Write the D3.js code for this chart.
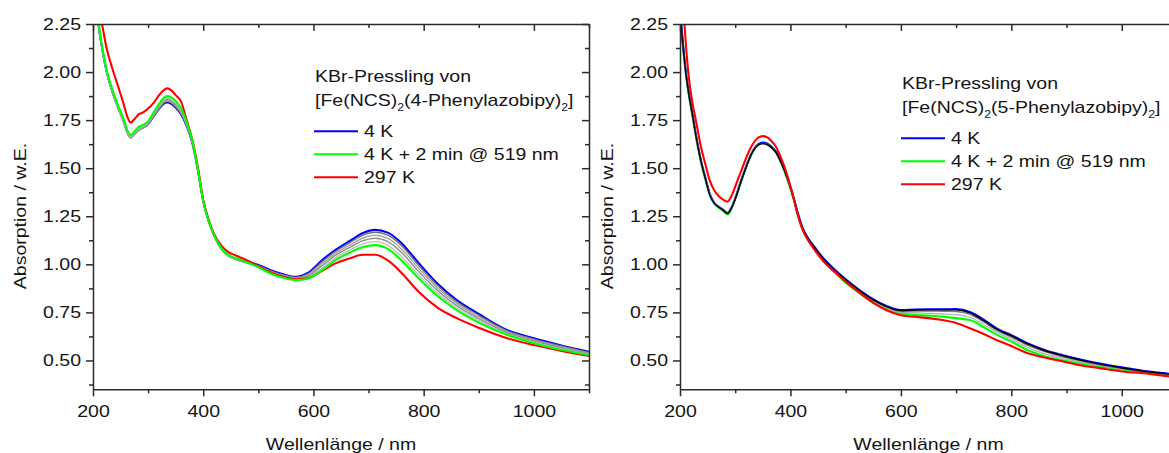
<!DOCTYPE html>
<html>
<head>
<meta charset="utf-8">
<script src="https://cdn.jsdelivr.net/npm/d3@7"></script>
<style>
  html, body { margin: 0; padding: 0; background: #fff; }
  svg { display: block; }
</style>
</head>
<body>
<svg id="chart" width="1169" height="453"></svg>
<script>
// ---- Spectra: KBr pellets of [Fe(NCS)2(4-/5-Phenylazobipy)2] ----

// Left panel: 4-Phenylazobipy complex
const WL_LEFT = [205, 215, 225, 235, 245, 255, 262, 268, 275, 283, 291, 300, 310, 320, 328, 335,
  342, 350, 360, 370, 380, 390, 400, 410, 420, 432, 445, 460, 480, 500, 520, 545, 568, 590, 615,
  640, 665, 690, 712, 735, 760, 790, 825, 860, 900, 950, 1000, 1050, 1100];

const LEFT_4K = [2.35, 2.15, 2.00, 1.90, 1.82, 1.75, 1.69, 1.662, 1.68, 1.70, 1.712, 1.73, 1.77, 1.81,
  1.835, 1.842, 1.835, 1.815, 1.78, 1.72, 1.635, 1.495, 1.33, 1.225, 1.15, 1.086, 1.048, 1.028, 1.012,
  0.997, 0.972, 0.948, 0.935, 0.955, 1.02, 1.075, 1.12, 1.163, 1.179, 1.165, 1.11, 1.01, 0.90, 0.814,
  0.742, 0.66, 0.615, 0.578, 0.545];

const LEFT_519 = [2.36, 2.16, 2.01, 1.91, 1.83, 1.76, 1.70, 1.673, 1.69, 1.715, 1.725, 1.745, 1.79, 1.835,
  1.865, 1.875, 1.868, 1.85, 1.81, 1.74, 1.645, 1.50, 1.33, 1.225, 1.15, 1.088, 1.05, 1.03, 1.01, 0.985,
  0.955, 0.93, 0.918, 0.925, 0.968, 1.022, 1.06, 1.09, 1.10, 1.08, 1.02, 0.93, 0.835, 0.762, 0.697,
  0.635, 0.59, 0.556, 0.528];

const LEFT_297K = [2.40, 2.27, 2.12, 2.02, 1.93, 1.84, 1.77, 1.737, 1.755, 1.78, 1.79, 1.81, 1.84, 1.88,
  1.905, 1.915, 1.905, 1.88, 1.845, 1.75, 1.65, 1.51, 1.335, 1.23, 1.155, 1.10, 1.065, 1.045, 1.02, 0.99,
  0.96, 0.935, 0.922, 0.928, 0.965, 1.005, 1.03, 1.05, 1.05, 1.02, 0.955, 0.86, 0.775, 0.72, 0.67,
  0.617, 0.58, 0.55, 0.523];

// intermediate spectra recorded during irradiation
const LEFT_STEP1 = [2.35, 2.15, 2.00, 1.895, 1.815, 1.745, 1.686, 1.658, 1.676, 1.697, 1.709, 1.729, 1.769,
  1.811, 1.838, 1.846, 1.839, 1.819, 1.783, 1.722, 1.634, 1.49, 1.325, 1.22, 1.146, 1.083, 1.045, 1.025,
  1.009, 0.994, 0.969, 0.945, 0.932, 0.950, 1.012, 1.067, 1.111, 1.152, 1.167, 1.152, 1.097, 0.998,
  0.89, 0.806, 0.735, 0.656, 0.611, 0.575, 0.542];
const LEFT_STEP2 = [2.35, 2.15, 2.00, 1.897, 1.816, 1.746, 1.687, 1.657, 1.675, 1.697, 1.71, 1.731, 1.773,
  1.816, 1.844, 1.851, 1.845, 1.825, 1.789, 1.726, 1.636, 1.492, 1.326, 1.221, 1.146, 1.083, 1.045, 1.024,
  1.007, 0.991, 0.965, 0.941, 0.929, 0.945, 1.002, 1.056, 1.099, 1.137, 1.151, 1.135, 1.079, 0.982,
  0.877, 0.796, 0.726, 0.651, 0.606, 0.57, 0.539];
const LEFT_STEP3 = [2.35, 2.15, 2.00, 1.898, 1.818, 1.748, 1.689, 1.66, 1.678, 1.701, 1.714, 1.735, 1.777,
  1.821, 1.849, 1.857, 1.851, 1.831, 1.795, 1.73, 1.638, 1.494, 1.327, 1.222, 1.147, 1.084, 1.046, 1.025,
  1.008, 0.99, 0.962, 0.938, 0.926, 0.939, 0.991, 1.046, 1.087, 1.123, 1.136, 1.118, 1.061, 0.966,
  0.864, 0.785, 0.717, 0.646, 0.601, 0.566, 0.536];
const LEFT_STEP4 = [2.35, 2.15, 2.00, 1.90, 1.82, 1.75, 1.692, 1.664, 1.683, 1.705, 1.718, 1.739, 1.782,
  1.826, 1.855, 1.864, 1.857, 1.838, 1.80, 1.733, 1.64, 1.496, 1.328, 1.223, 1.148, 1.085, 1.047, 1.027,
  1.009, 0.988, 0.959, 0.934, 0.922, 0.932, 0.979, 1.034, 1.073, 1.106, 1.118, 1.099, 1.04, 0.948,
  0.849, 0.773, 0.707, 0.64, 0.595, 0.561, 0.532];

// Right panel: 5-Phenylazobipy complex
const WL_RIGHT = [200, 205, 211, 216, 222, 230, 238, 246, 254, 262, 270, 278, 286, 294, 302, 310, 318,
  326, 334, 342, 350, 358, 366, 374, 382, 390, 398, 406, 414, 422, 432, 445, 460, 478, 500, 525, 550,
  575, 600, 625, 650, 675, 700, 725, 750, 775, 800, 830, 860, 890, 925, 960, 1000, 1050, 1100];

const RIGHT_4K = [2.33, 2.16, 1.99, 1.89, 1.79, 1.655, 1.54, 1.45, 1.365, 1.32, 1.30, 1.285, 1.268, 1.30,
  1.36, 1.43, 1.495, 1.555, 1.60, 1.625, 1.633, 1.628, 1.61, 1.585, 1.54, 1.485, 1.42, 1.345, 1.26, 1.19,
  1.135, 1.085, 1.03, 0.978, 0.922, 0.866, 0.818, 0.782, 0.762, 0.765, 0.766, 0.766, 0.767, 0.752,
  0.712, 0.664, 0.632, 0.588, 0.555, 0.53, 0.505, 0.484, 0.464, 0.442, 0.427];

const RIGHT_519 = [2.30, 2.14, 1.98, 1.88, 1.78, 1.645, 1.53, 1.44, 1.36, 1.315, 1.295, 1.278, 1.26, 1.295,
  1.355, 1.425, 1.49, 1.55, 1.597, 1.622, 1.632, 1.628, 1.61, 1.583, 1.535, 1.478, 1.41, 1.335, 1.25,
  1.18, 1.125, 1.075, 1.02, 0.965, 0.905, 0.85, 0.80, 0.77, 0.745, 0.737, 0.733, 0.728, 0.72, 0.71,
  0.673, 0.632, 0.598, 0.553, 0.522, 0.502, 0.485, 0.469, 0.452, 0.437, 0.422];

const RIGHT_297K = [2.60, 2.38, 2.13, 1.97, 1.85, 1.73, 1.61, 1.52, 1.435, 1.385, 1.355, 1.337, 1.326,
  1.36, 1.42, 1.48, 1.54, 1.595, 1.635, 1.66, 1.667, 1.66, 1.64, 1.61, 1.56, 1.50, 1.425, 1.34, 1.25,
  1.18, 1.125, 1.07, 1.015, 0.965, 0.91, 0.853, 0.80, 0.76, 0.735, 0.727, 0.72, 0.71, 0.695, 0.668,
  0.638, 0.604, 0.575, 0.537, 0.515, 0.497, 0.475, 0.46, 0.443, 0.43, 0.412];

const RIGHT_STEP1 = [2.31, 2.15, 1.985, 1.885, 1.785, 1.65, 1.535, 1.445, 1.36, 1.318, 1.298, 1.282,
  1.264, 1.297, 1.357, 1.427, 1.492, 1.552, 1.597, 1.621, 1.628, 1.623, 1.606, 1.581, 1.537, 1.482,
  1.417, 1.342, 1.257, 1.187, 1.132, 1.082, 1.027, 0.975, 0.919, 0.863, 0.815, 0.779, 0.759, 0.762,
  0.763, 0.763, 0.763, 0.748, 0.707, 0.66, 0.628, 0.585, 0.552, 0.527, 0.502, 0.481, 0.461, 0.44, 0.425];
const RIGHT_STEP2 = [2.31, 2.15, 1.985, 1.885, 1.785, 1.65, 1.535, 1.446, 1.362, 1.32, 1.30, 1.284,
  1.267, 1.30, 1.36, 1.43, 1.494, 1.553, 1.597, 1.62, 1.627, 1.621, 1.604, 1.579, 1.535, 1.48, 1.415,
  1.34, 1.255, 1.185, 1.13, 1.08, 1.025, 0.973, 0.917, 0.861, 0.812, 0.776, 0.755, 0.757, 0.757, 0.756,
  0.755, 0.74, 0.70, 0.655, 0.622, 0.578, 0.546, 0.522, 0.498, 0.478, 0.459, 0.439, 0.424];
const RIGHT_STEP3 = [2.31, 2.145, 1.98, 1.88, 1.78, 1.648, 1.533, 1.444, 1.361, 1.319, 1.30, 1.284,
  1.268, 1.302, 1.362, 1.432, 1.496, 1.555, 1.599, 1.622, 1.629, 1.623, 1.605, 1.579, 1.534, 1.478,
  1.412, 1.338, 1.253, 1.183, 1.128, 1.078, 1.022, 0.97, 0.913, 0.857, 0.808, 0.772, 0.75, 0.748, 0.745,
  0.742, 0.738, 0.725, 0.687, 0.645, 0.61, 0.567, 0.535, 0.513, 0.492, 0.474, 0.456, 0.438, 0.423];

// Axis ticks
const X_MAJOR = [200, 400, 600, 800, 1000];
const X_MINOR = [300, 500, 700, 900, 1100];
const Y_MAJOR = [0.50, 0.75, 1.00, 1.25, 1.50, 1.75, 2.00, 2.25];
const Y_MINOR = [0.375, 0.625, 0.875, 1.125, 1.375, 1.625, 1.875, 2.125];

const LEGEND_LABELS = ["4 K", "4 K + 2 min @ 519 nm", "297 K"];
const LEGEND_COLORS = ["#0000ff", "#00ff00", "#ff0000"];

// ---- drawing ----
const SX = 1.22;        // horizontal glyph stretch of all text
const FONT = '"Liberation Sans", Arial, Helvetica, sans-serif';
const AXIS_COLOR = "#2b2b2b";

const svg = d3.select("#chart");
const defs = svg.append("defs");
const y = d3.scaleLinear().domain([0.35, 2.25]).range([389.3, 24]);

function stretch(sel) {
  sel.each(function () {
    const t = d3.select(this);
    const x = +t.attr("x") || 0, yy = +t.attr("y") || 0;
    t.attr("x", null).attr("y", null)
     .attr("transform", `translate(${x},${yy}) scale(${SX},1)`);
  });
}

function styleAxis(g) {
  g.selectAll(".domain").attr("stroke", AXIS_COLOR).attr("stroke-width", 1.5);
  g.selectAll(".tick line").attr("stroke", AXIS_COLOR).attr("stroke-width", 1.5);
  g.selectAll("text").attr("font-family", FONT).attr("font-size", 16).attr("fill", "#141414");
  stretch(g.selectAll("text"));
}

const panels = [
  {
    id: "left", x0: 93, x1: 589, wl: WL_LEFT, yLabelX: 26,
    series: [
      { v: LEFT_4K, c: "#0000ff", w: 2.1 },
      { v: LEFT_STEP1, c: "#6f6f6f", w: 1.4 },
      { v: LEFT_STEP2, c: "#a6a6a6", w: 1.4 },
      { v: LEFT_STEP3, c: "#8c8c8c", w: 1.4 },
      { v: LEFT_STEP4, c: "#bdbdbd", w: 1.4 },
      { v: LEFT_297K, c: "#ff0000", w: 2.1 },
      { v: LEFT_519, c: "#00ff00", w: 2.1 }
    ],
    legend: { x: 315, y: 82.3, ligand: "(4-Phenylazobipy)" }
  },
  {
    id: "right", x0: 680, x1: 1177, wl: WL_RIGHT, yLabelX: 613,
    series: [
      { v: RIGHT_519, c: "#00ff00", w: 2.1 },
      { v: RIGHT_4K, c: "#0000ff", w: 2.1 },
      { v: RIGHT_STEP3, c: "#b5b5b5", w: 1.4 },
      { v: RIGHT_STEP2, c: "#7a7a7a", w: 1.4 },
      { v: RIGHT_STEP1, c: "#000000", w: 1.4 },
      { v: RIGHT_297K, c: "#ff0000", w: 2.1 }
    ],
    legend: { x: 902, y: 89.3, ligand: "(5-Phenylazobipy)" }
  }
];

panels.forEach(p => {
  const x = d3.scaleLinear().domain([200, 1100]).range([p.x0, p.x1]);
  const g = svg.append("g").attr("class", "panel-" + p.id);

  defs.append("clipPath").attr("id", "clip-" + p.id)
    .append("rect")
    .attr("x", p.x0).attr("y", y(2.25))
    .attr("width", p.x1 - p.x0).attr("height", y(0.35) - y(2.25));

  const line = d3.line()
    .x((d, i) => x(p.wl[i]))
    .y(d => y(d))
    .curve(d3.curveMonotoneX);

  const plot = g.append("g").attr("clip-path", `url(#clip-${p.id})`);
  p.series.forEach(s => {
    plot.append("path")
      .datum(s.v)
      .attr("d", line)
      .attr("fill", "none")
      .attr("stroke", s.c)
      .attr("stroke-width", s.w)
      .attr("stroke-linejoin", "round");
  });

  // axes: outward ticks on bottom/left, inward ticks on top/right
  const bottomMinor = g.append("g").attr("transform", `translate(0,${y(0.35)})`)
    .call(d3.axisBottom(x).tickValues(X_MINOR).tickSize(4).tickSizeOuter(0).tickFormat(""));
  bottomMinor.select(".domain").remove();
  const bottom = g.append("g").attr("transform", `translate(0,${y(0.35)})`)
    .call(d3.axisBottom(x).tickValues(X_MAJOR).tickSize(7).tickSizeOuter(0).tickPadding(9)
      .tickFormat(d3.format("d")));

  const topMinor = g.append("g").attr("transform", `translate(0,${y(2.25)})`)
    .call(d3.axisTop(x).tickValues(X_MINOR).tickSize(-4).tickSizeOuter(0).tickFormat(""));
  topMinor.select(".domain").remove();
  const top = g.append("g").attr("transform", `translate(0,${y(2.25)})`)
    .call(d3.axisTop(x).tickValues(X_MAJOR).tickSize(-7).tickSizeOuter(0).tickFormat(""));

  const leftMinor = g.append("g").attr("transform", `translate(${p.x0},0)`)
    .call(d3.axisLeft(y).tickValues(Y_MINOR).tickSize(4).tickSizeOuter(0).tickFormat(""));
  leftMinor.select(".domain").remove();
  const left = g.append("g").attr("transform", `translate(${p.x0},0)`)
    .call(d3.axisLeft(y).tickValues(Y_MAJOR).tickSize(7).tickSizeOuter(0).tickPadding(5)
      .tickFormat(d3.format(".2f")));

  const rightMinor = g.append("g").attr("transform", `translate(${p.x1},0)`)
    .call(d3.axisRight(y).tickValues(Y_MINOR).tickSize(-4).tickSizeOuter(0).tickFormat(""));
  rightMinor.select(".domain").remove();
  const right = g.append("g").attr("transform", `translate(${p.x1},0)`)
    .call(d3.axisRight(y).tickValues(Y_MAJOR).tickSize(-7).tickSizeOuter(0).tickFormat(""));

  [bottomMinor, bottom, topMinor, top, leftMinor, left, rightMinor, right].forEach(styleAxis);

  // axis titles
  g.append("text")
    .attr("transform", `translate(${(p.x0 + p.x1) / 2},450) scale(${SX},1)`)
    .attr("text-anchor", "middle")
    .attr("font-family", FONT).attr("font-size", 16).attr("fill", "#141414")
    .text("Wellenlänge / nm");

  g.append("text")
    .attr("transform", `translate(${p.yLabelX},216) rotate(-90) scale(${SX},1)`)
    .attr("text-anchor", "middle")
    .attr("font-family", FONT).attr("font-size", 16).attr("fill", "#141414")
    .text("Absorption / w.E.");

  // legend
  const L = p.legend;
  const lg = g.append("g")
    .attr("font-family", FONT).attr("font-size", 16).attr("fill", "#141414");
  lg.append("text")
    .attr("transform", `translate(${L.x},${L.y}) scale(${SX},1)`)
    .text("KBr-Pressling von");
  const comp = lg.append("text")
    .attr("transform", `translate(${L.x},${L.y + 23.5}) scale(${SX},1)`);
  comp.append("tspan").text("[Fe(NCS)");
  comp.append("tspan").attr("font-size", 10).attr("dy", 5).text("2");
  comp.append("tspan").attr("dy", -5).text(L.ligand);
  comp.append("tspan").attr("font-size", 10).attr("dy", 5).text("2");
  comp.append("tspan").attr("dy", -5).text("]");

  LEGEND_LABELS.forEach((lab, i) => {
    const by = L.y + 55 + i * 23;
    lg.append("line")
      .attr("x1", L.x - 1).attr("x2", L.x + 43)
      .attr("y1", by - 6).attr("y2", by - 6)
      .attr("stroke", LEGEND_COLORS[i]).attr("stroke-width", 2);
    lg.append("text")
      .attr("transform", `translate(${L.x + 49},${by}) scale(${SX},1)`)
      .text(lab);
  });
});
</script>
</body>
</html>
